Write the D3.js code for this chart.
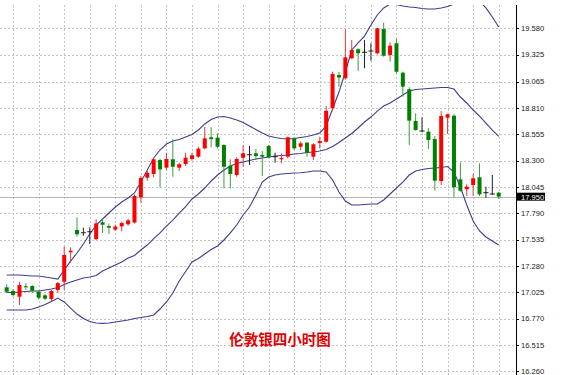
<!DOCTYPE html>
<html>
<head>
<meta charset="utf-8">
<script src="https://cdn.jsdelivr.net/npm/d3@7"></script>
<style>
  body { margin: 0; background: #fff; }
  .grid line { stroke: #c4c4c4; stroke-dasharray: 2,2; shape-rendering: crispEdges; }
  .band { fill: none; stroke: #3d3d8f; stroke-width: 1.1; }
  .axis text { font-family: "Liberation Sans", Arial, sans-serif; font-size: 7.6px; fill: #222; }
</style>
</head>
<body>
<div id="graph"></div>
<script>
// 4 hour silver candles, oldest first
var open = [17.073, 17.037, 16.982, 17.083, 17.085, 17.030, 16.995, 16.960, 17.047, 17.127,
  17.412, 17.628, 17.601, 17.611, 17.540, 17.702, 17.666, 17.632, 17.663, 17.683,
  17.700, 17.944, 18.134, 18.170, 18.305, 18.231, 18.312, 18.231, 18.266, 18.315,
  18.337, 18.418, 18.525, 18.521, 18.450, 18.250, 18.160, 18.327, 18.356, 18.370,
  18.354, 18.441, 18.337, 18.312, 18.337, 18.515, 18.434, 18.473, 18.337, 18.470,
  18.482, 18.806, 19.128, 19.096, 19.290, 19.377, 19.348, 19.360, 19.338, 19.573,
  19.322, 19.435, 19.150, 18.990, 18.683, 18.586, 18.579, 18.508, 18.102, 18.715,
  18.734, 18.118, 18.022, 18.063, 18.138, 17.989, 17.976, 17.989];
var close = [17.030, 16.998, 17.095, 17.073, 17.040, 16.972, 16.963, 17.037, 17.114, 17.386,
  17.427, 17.586, 17.601, 17.611, 17.692, 17.679, 17.650, 17.661, 17.695, 17.721,
  17.957, 18.131, 18.182, 18.312, 18.215, 18.315, 18.240, 18.264, 18.327, 18.351,
  18.415, 18.515, 18.508, 18.434, 18.240, 18.170, 18.315, 18.370, 18.356, 18.344,
  18.337, 18.331, 18.337, 18.324, 18.525, 18.418, 18.467, 18.376, 18.457, 18.489,
  18.782, 19.138, 19.104, 19.299, 19.370, 19.338, 19.348, 19.360, 19.580, 19.315,
  19.412, 19.160, 19.015, 18.686, 18.596, 18.586, 18.499, 18.105, 18.731, 18.748,
  18.041, 18.008, 18.047, 18.128, 17.973, 17.989, 17.976, 17.950];
var high = [17.102, 17.056, 17.127, 17.112, 17.095, 17.047, 17.008, 17.047, 17.124, 17.466,
  17.460, 17.750, 17.650, 17.654, 17.731, 17.724, 17.690, 17.679, 17.708, 17.737,
  17.971, 18.153, 18.199, 18.318, 18.318, 18.376, 18.506, 18.279, 18.376, 18.376,
  18.434, 18.625, 18.622, 18.564, 18.457, 18.312, 18.331, 18.450, 18.441, 18.412,
  18.392, 18.450, 18.376, 18.370, 18.531, 18.525, 18.482, 18.479, 18.467, 18.531,
  18.828, 19.160, 19.157, 19.570, 19.467, 19.386, 19.467, 19.435, 19.586, 19.634,
  19.444, 19.476, 19.160, 19.009, 18.757, 18.718, 18.612, 18.537, 18.779, 18.753,
  18.748, 18.283, 18.070, 18.170, 18.273, 18.047, 18.160, 17.998];
var low = [17.015, 16.982, 16.902, 17.047, 17.018, 16.957, 16.950, 16.940, 17.018, 17.047,
  17.311, 17.563, 17.572, 17.492, 17.531, 17.598, 17.589, 17.618, 17.615, 17.669,
  17.690, 17.892, 18.105, 18.138, 18.041, 18.208, 18.143, 18.199, 18.247, 18.298,
  18.327, 18.409, 18.428, 18.418, 18.031, 18.031, 18.143, 18.240, 18.257, 18.305,
  18.150, 18.322, 18.279, 18.273, 18.322, 18.402, 18.402, 18.337, 18.305, 18.418,
  18.473, 18.789, 19.015, 19.084, 19.280, 19.167, 19.193, 19.266, 19.328, 19.305,
  19.257, 19.144, 18.918, 18.450, 18.589, 18.573, 18.412, 18.008, 18.063, 18.557,
  17.944, 17.998, 17.957, 17.957, 17.957, 17.940, 17.966, 17.928];

// bollinger bands
var upper = [17.192, 17.192, 17.192, 17.187, 17.182, 17.182, 17.173, 17.163, 17.153, 17.240,
  17.327, 17.405, 17.492, 17.589, 17.676, 17.734, 17.792, 17.850, 17.899, 17.937,
  17.986, 18.092, 18.208, 18.325, 18.402, 18.460, 18.489, 18.504, 18.528, 18.552,
  18.596, 18.654, 18.697, 18.721, 18.726, 18.712, 18.692, 18.668, 18.634, 18.600,
  18.567, 18.537, 18.523, 18.513, 18.508, 18.513, 18.523, 18.533, 18.547, 18.567,
  18.634, 18.799, 18.963, 19.157, 19.370, 19.438, 19.505, 19.612, 19.709, 19.777,
  19.815, 19.810, 19.796, 19.786, 19.781, 19.772, 19.767, 19.767, 19.777, 19.791,
  19.815, 19.844, 19.873, 19.873, 19.844, 19.777, 19.689, 19.593];
var middle = [17.023, 17.023, 17.027, 17.032, 17.037, 17.037, 17.047, 17.056, 17.071, 17.100,
  17.124, 17.144, 17.163, 17.173, 17.187, 17.231, 17.260, 17.289, 17.318, 17.357,
  17.381, 17.434, 17.482, 17.545, 17.599, 17.666, 17.724, 17.792, 17.855, 17.928,
  17.976, 18.034, 18.102, 18.160, 18.208, 18.247, 18.271, 18.286, 18.300, 18.315,
  18.325, 18.334, 18.344, 18.349, 18.354, 18.363, 18.368, 18.378, 18.383, 18.392,
  18.407, 18.436, 18.475, 18.518, 18.562, 18.615, 18.673, 18.721, 18.779, 18.828,
  18.857, 18.896, 18.934, 18.973, 18.988, 18.992, 18.997, 19.002, 19.007, 19.007,
  18.992, 18.915, 18.857, 18.789, 18.731, 18.663, 18.594, 18.533];
var lower = [16.853, 16.853, 16.853, 16.853, 16.863, 16.882, 16.906, 16.935, 16.969, 16.931,
  16.872, 16.814, 16.771, 16.742, 16.727, 16.724, 16.727, 16.737, 16.747, 16.756,
  16.771, 16.781, 16.790, 16.805, 16.863, 16.931, 17.018, 17.134, 17.226, 17.318,
  17.352, 17.395, 17.439, 17.473, 17.531, 17.599, 17.676, 17.773, 17.850, 17.966,
  18.092, 18.141, 18.160, 18.170, 18.174, 18.179, 18.182, 18.189, 18.199, 18.199,
  18.189, 18.112, 17.995, 17.908, 17.870, 17.870, 17.874, 17.879, 17.879, 17.918,
  17.976, 18.034, 18.092, 18.160, 18.199, 18.213, 18.223, 18.228, 18.233, 18.242,
  18.189, 18.044, 17.870, 17.715, 17.618, 17.560, 17.521, 17.482];

var tickLabels = ["19.580", "19.325", "19.065", "18.810", "18.555", "18.300", "18.045",
  "17.790", "17.535", "17.280", "17.025", "16.770", "16.515", "16.260"];
var lastPrice = 17.950;
var title = "伦敦银四小时图";

var width = 564, height = 375,
    plotRight = 516, plotTop = 5;

var svg = d3.select("#graph").append("svg")
    .attr("width", width)
    .attr("height", height);

var n = open.length;
var x = d3.scaleLinear()
    .domain([1, n])
    .range([6.7, 498.7]);

var y = d3.scaleLinear()
    .domain([16.26, 19.58])
    .range([371.3, 28.3]);

svg.append("defs").append("clipPath")
    .attr("id", "plotclip")
    .append("rect")
    .attr("x", 0).attr("y", plotTop)
    .attr("width", plotRight).attr("height", height - plotTop);

// grid
var grid = svg.append("g").attr("class", "grid");
grid.selectAll(".hg")
    .data(tickLabels)
    .enter().append("line")
    .attr("x1", 0).attr("x2", plotRight)
    .attr("y1", function (d) { return Math.round(y(+d)) + 0.5; })
    .attr("y2", function (d) { return Math.round(y(+d)) + 0.5; });

var vIdx = d3.range(2, n + 1, 4);
grid.selectAll(".vg")
    .data(vIdx)
    .enter().append("line")
    .attr("y1", plotTop).attr("y2", height)
    .attr("x1", function (d) { return Math.round(x(d)) + 0.5; })
    .attr("x2", function (d) { return Math.round(x(d)) + 0.5; });

// last price line
svg.append("line")
    .attr("x1", 0).attr("x2", plotRight)
    .attr("y1", Math.round(y(lastPrice)) + 0.5)
    .attr("y2", Math.round(y(lastPrice)) + 0.5)
    .attr("stroke", "#b4b4b4")
    .attr("shape-rendering", "crispEdges");

// bands
var plot = svg.append("g").attr("clip-path", "url(#plotclip)");
[upper, middle, lower].forEach(function (band) {
    var line = d3.line()
        .x(function (d, i) { return x(i + 1); })
        .y(function (d) { return y(d); });
    plot.append("path")
        .attr("class", "band")
        .attr("d", line(band));
});

// candles
var candles = d3.range(n).map(function (i) {
    return { i: i + 1, o: open[i], h: high[i], l: low[i], c: close[i] };
});
function colorOf(d, wick) {
    if (d.c > d.o) return wick ? "#e23a3a" : "#ff0000";
    if (d.c < d.o) return wick ? "#3f9a3f" : "#008000";
    return "#222";
}

var cg = plot.selectAll(".candle")
    .data(candles)
    .enter().append("g")
    .attr("class", "candle");

cg.append("line")
    .attr("x1", function (d) { return x(d.i); })
    .attr("x2", function (d) { return x(d.i); })
    .attr("y1", function (d) { return y(d.h); })
    .attr("y2", function (d) { return y(d.l); })
    .attr("stroke", function (d) { return colorOf(d, true); })
    .attr("stroke-width", 1);

cg.append("rect")
    .attr("x", function (d) { return x(d.i) - 2; })
    .attr("width", function (d) { return d.c === d.o ? 5 : 4; })
    .attr("y", function (d) { return d.c === d.o ? y(d.o) - 0.5 : y(Math.max(d.o, d.c)); })
    .attr("height", function (d) { return d.c === d.o ? 1 : Math.max(1, Math.abs(y(d.o) - y(d.c))); })
    .attr("transform", function (d) { return d.c === d.o ? "translate(-0.5,0)" : null; })
    .attr("fill", function (d) { return colorOf(d, false); });

// right axis
var axis = svg.append("g")
    .attr("class", "axis");
axis.append("line")
    .attr("x1", plotRight + 0.5).attr("x2", plotRight + 0.5)
    .attr("y1", plotTop).attr("y2", height)
    .attr("stroke", "#000")
    .attr("shape-rendering", "crispEdges");

axis.selectAll(".tk")
    .data(tickLabels)
    .enter().append("line")
    .attr("x1", plotRight).attr("x2", plotRight + 3)
    .attr("y1", function (d) { return Math.round(y(+d)) + 0.5; })
    .attr("y2", function (d) { return Math.round(y(+d)) + 0.5; })
    .attr("stroke", "#000");

axis.selectAll(".lbl")
    .data(tickLabels)
    .enter().append("text")
    .attr("x", plotRight + 5)
    .attr("y", function (d) { return y(+d) + 2.8; })
    .text(function (d) { return d; });

// current price tag
var tag = svg.append("g");
tag.append("rect")
    .attr("x", plotRight + 1)
    .attr("y", y(lastPrice) - 4)
    .attr("width", 28)
    .attr("height", 8)
    .attr("fill", "#000");
tag.append("text")
    .attr("x", plotRight + 5)
    .attr("y", y(lastPrice) + 2.8)
    .attr("font-family", "Liberation Sans, Arial, sans-serif")
    .attr("font-size", "7.6px")
    .attr("fill", "#fff")
    .text(lastPrice.toFixed(3));

// title
svg.append("text")
    .attr("x", 280)
    .attr("y", 345)
    .attr("text-anchor", "middle")
    .attr("font-family", "Noto Sans CJK SC, sans-serif")
    .attr("font-size", "14.5px")
    .attr("font-weight", "bold")
    .attr("fill", "#e00000")
    .text(title);
</script>
</body>
</html>
